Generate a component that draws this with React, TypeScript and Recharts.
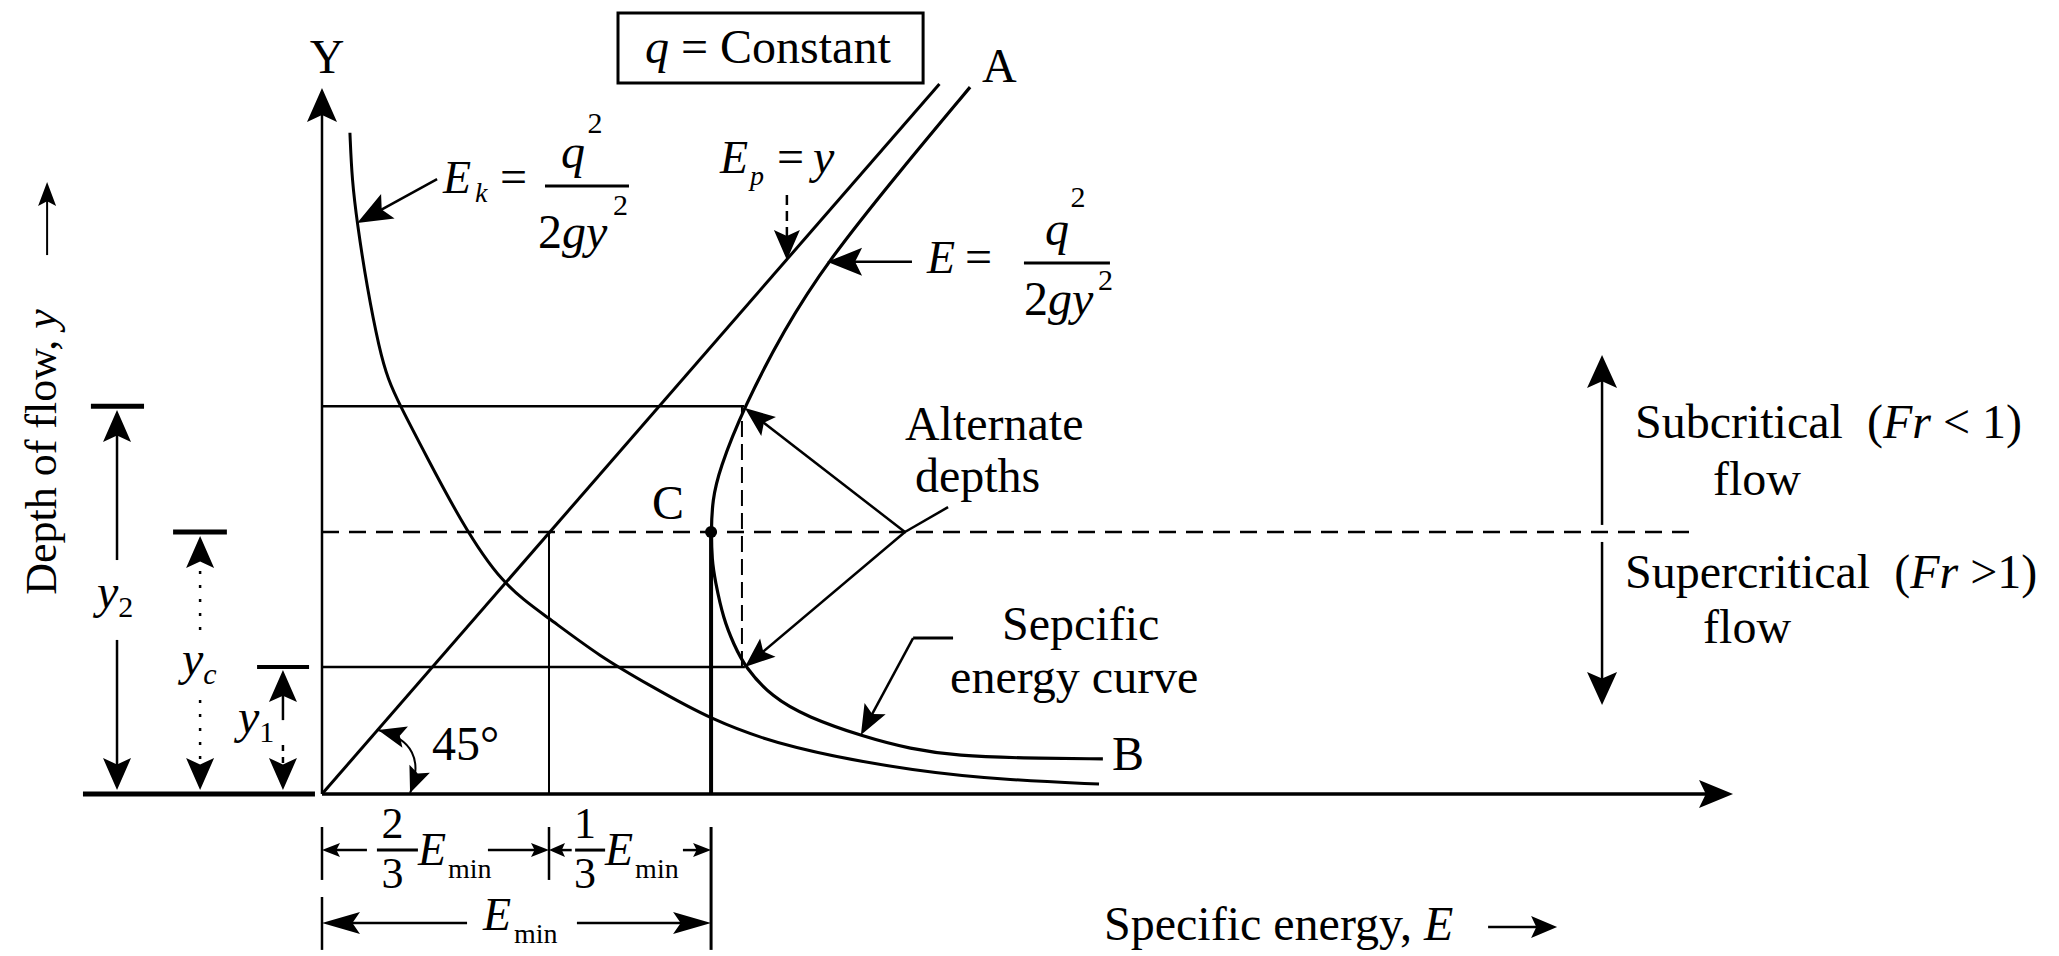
import React from 'react';
import { LineChart, Line, XAxis, YAxis, ReferenceLine, ReferenceDot, ReferenceArea } from 'recharts';

const FONT = '"Liberation Serif", "Times New Roman", Times, serif';
const INK = '#000';

// plot window: specific energy E across, depth y up (critical depth y_c = 1 unit)
const E_RANGE: [number, number] = [-1.4185, 7.652];
const Y_RANGE: [number, number] = [-0.6183, 3.0305];

// specific energy curve E = y + q²/2gy², from A (top) down to B
const specE = [2.855, 2.55, 2.225, 2.035, 1.859, 1.749, 1.72, 1.714, 1.718, 1.731, 1.769, 1.815, 1.863, 1.982, 2.137, 2.388, 2.59, 2.806, 3.075, 3.44];
const specY = [2.698, 2.382, 2.031, 1.772, 1.477, 1.236, 1.121, 1.0, 0.893, 0.817, 0.665, 0.57, 0.485, 0.37, 0.294, 0.218, 0.172, 0.145, 0.137, 0.134];

// kinetic part E_k = q²/2gy²
const kinE = [0.123, 0.132, 0.155, 0.198, 0.253, 0.291, 0.344, 0.462, 0.608, 0.791, 0.994, 1.225, 1.445, 1.711, 2.052, 2.631, 3.035, 3.423];
const kinY = [2.524, 2.344, 2.179, 1.935, 1.695, 1.582, 1.482, 1.286, 1.046, 0.8, 0.675, 0.524, 0.414, 0.284, 0.174, 0.084, 0.053, 0.038];

// potential part E_p = y (the 45° line)
const potE = [0, 2.72];
const potY = [0, 2.71];

// depths / energies marked on the figure
const Y2 = 1.48;
const YC = 1.0;
const Y1 = 0.485;
const E_ALT = 1.86;
const E_MIN = 1.714;
const E_TWO_THIRDS = 1.0;

const pts = (xs: number[], ys: number[]) => xs.map((E, i) => ({ E, y: ys[i] }));

const headPts = (tx: number, ty: number, fx: number, fy: number, len: number, half: number) => {
  const d = Math.hypot(tx - fx, ty - fy) || 1;
  const ux = (tx - fx) / d;
  const uy = (ty - fy) / d;
  const bx = tx - ux * len;
  const by = ty - uy * len;
  const nx = tx - ux * len * 0.8;
  const ny = ty - uy * len * 0.8;
  return [
    [tx, ty],
    [bx - uy * half, by + ux * half],
    [nx, ny],
    [bx + uy * half, by - ux * half],
  ].map((p) => p.join(',')).join(' ');
};

type ArrowOpt = { end?: boolean; start?: boolean; len?: number; half?: number; width?: number; dash?: string };

const arrowShape = ({ end = true, start = false, len = 32, half = 13, width = 2.5, dash }: ArrowOpt = {}) => (p: any) => {
  const { x1, y1, x2, y2 } = p;
  const d = Math.hypot(x2 - x1, y2 - y1) || 1;
  const ux = (x2 - x1) / d;
  const uy = (y2 - y1) / d;
  const lx2 = end ? x2 - ux * len * 0.6 : x2;
  const ly2 = end ? y2 - uy * len * 0.6 : y2;
  const lx1 = start ? x1 + ux * len * 0.6 : x1;
  const ly1 = start ? y1 + uy * len * 0.6 : y1;
  return (
    <g>
      <line x1={lx1} y1={ly1} x2={lx2} y2={ly2} stroke={INK} strokeWidth={width} strokeDasharray={dash} />
      {end && <polygon points={headPts(x2, y2, x1, y1, len, half)} fill={INK} />}
      {start && <polygon points={headPts(x1, y1, x2, y2, len, half)} fill={INK} />}
    </g>
  );
};

// curved double arrow for the 45° mark
const arcShape = (bulge: number) => (p: any) => {
  const { x1, y1, x2, y2 } = p;
  const d = Math.hypot(x2 - x1, y2 - y1) || 1;
  const cx = (x1 + x2) / 2 + ((y2 - y1) / d) * bulge;
  const cy = (y1 + y2) / 2 - ((x2 - x1) / d) * bulge;
  return (
    <g>
      <path d={`M${x1},${y1} Q${cx},${cy} ${x2},${y2}`} fill="none" stroke={INK} strokeWidth={2} />
      <polygon points={headPts(x1, y1, cx, cy, 28, 11)} fill={INK} />
      <polygon points={headPts(x2, y2, cx, cy, 26, 11)} fill={INK} />
    </g>
  );
};

const textShape = (content: React.ReactNode, o: { size?: number; anchor?: 'start' | 'middle' | 'end'; rotate?: number } = {}) => (p: any) => (
  <text
    x={p.cx}
    y={p.cy}
    fill={INK}
    fontFamily={FONT}
    fontSize={o.size ?? 48}
    textAnchor={o.anchor ?? 'start'}
    style={{ whiteSpace: 'pre' }}
    transform={o.rotate ? `rotate(${o.rotate} ${p.cx} ${p.cy})` : undefined}
  >
    {content}
  </text>
);

const it = (s: string) => <tspan fontStyle="italic">{s}</tspan>;

const T = (x: number, y: number, s: React.ReactNode, extra: any = {}) => (
  <text x={x} y={y} fill={INK} fontFamily={FONT} fontSize={48} {...extra}>{s}</text>
);

const groupShape = (body: React.ReactNode) => (p: any) => <g transform={`translate(${p.cx} ${p.cy})`}>{body}</g>;

const bar = (x1: number, x2: number, y: number) => <line x1={x1} x2={x2} y1={y} y2={y} stroke={INK} strokeWidth={3} />;

// E_k = q²/2gy²
const kineticFormula = groupShape(
  <>
    {T(0, 0, 'E', { fontStyle: 'italic', fontSize: 46 })}
    {T(32, 9, 'k', { fontStyle: 'italic', fontSize: 28 })}
    {T(57, 0, '=')}
    {bar(102, 186, -7)}
    {T(130, -25, 'q', { fontStyle: 'italic', textAnchor: 'middle' })}
    {T(152, -60, '2', { fontSize: 30, textAnchor: 'middle' })}
    {T(95, 55, <>2{it('gy')}</>)}
    {T(170, 22, '2', { fontSize: 30 })}
  </>
);

// E = q²/2gy²
const energyFormula = groupShape(
  <>
    {T(0, 0, 'E', { fontStyle: 'italic', fontSize: 46 })}
    {T(38, 0, '=')}
    {bar(97, 183, -10)}
    {T(130, -28, 'q', { fontStyle: 'italic', textAnchor: 'middle' })}
    {T(151, -66, '2', { fontSize: 30, textAnchor: 'middle' })}
    {T(97, 42, <>2{it('gy')}</>)}
    {T(171, 17, '2', { fontSize: 30 })}
  </>
);

// E_p = y
const potentialFormula = groupShape(
  <>
    {T(0, 0, 'E', { fontStyle: 'italic', fontSize: 46 })}
    {T(30, 12, 'p', { fontStyle: 'italic', fontSize: 28 })}
    {T(57, 0, '=')}
    {T(93, 0, 'y', { fontStyle: 'italic' })}
  </>
);

const fractionEmin = (num: string, w: number) => groupShape(
  <>
    {T(w / 2 - 5, -12, num, { fontSize: 44, textAnchor: 'middle' })}
    {bar(0, w, 0)}
    {T(w / 2 - 5, 38, '3', { fontSize: 44, textAnchor: 'middle' })}
    {T(w, 15, 'E', { fontStyle: 'italic', fontSize: 46 })}
    {T(w + 30, 28, 'min', { fontSize: 28 })}
  </>
);

const eminLabel = groupShape(
  <>
    {T(0, 0, 'E', { fontStyle: 'italic', fontSize: 46 })}
    {T(31, 13, 'min', { fontSize: 28 })}
  </>
);

const depthLabel = (sub: string, italicSub: boolean) =>
  textShape(
    <>
      {it('y')}
      <tspan fontSize={30} dy={9} fontStyle={italicSub ? 'italic' : 'normal'}>{sub}</tspan>
    </>
  );

type Pt = [number, number];
type Arrow = { a: Pt; b: Pt; shape: (p: any) => React.ReactElement };

const arrows: Arrow[] = [
  // axes
  { a: [0, 0], b: [0, 2.695], shape: arrowShape({ len: 34, half: 15 }) },
  { a: [0, 0], b: [6.216, 0], shape: arrowShape({ len: 34, half: 14, width: 3.5 }) },
  { a: [-1.053, 0], b: [-0.031, 0], shape: arrowShape({ end: false, width: 5 }) },
  // alternate depth levels and critical depth
  { a: [0, Y2], b: [E_ALT, Y2], shape: arrowShape({ end: false, width: 2.5 }) },
  { a: [0, Y1], b: [1.863, Y1], shape: arrowShape({ end: false, width: 2.5 }) },
  { a: [0, YC], b: [6.03, YC], shape: arrowShape({ end: false, width: 2.5, dash: '17 10' }) },
  { a: [1.85, Y1], b: [1.85, Y2], shape: arrowShape({ end: false, width: 2, dash: '16 7' }) },
  { a: [E_TWO_THIRDS, 0], b: [E_TWO_THIRDS, YC], shape: arrowShape({ end: false, width: 2 }) },
  { a: [E_MIN, 0], b: [E_MIN, YC], shape: arrowShape({ end: false, width: 4 }) },
  // y2, yc, y1 dimensions at left
  { a: [-1.018, Y2], b: [-0.784, Y2], shape: arrowShape({ end: false, width: 5 }) },
  { a: [-0.903, 0.893], b: [-0.903, 1.466], shape: arrowShape({ half: 14 }) },
  { a: [-0.903, 0.588], b: [-0.903, 0.015], shape: arrowShape({ half: 14 }) },
  { a: [-0.656, YC], b: [-0.419, YC], shape: arrowShape({ end: false, width: 5 }) },
  { a: [-0.537, 0.626], b: [-0.537, 0.985], shape: arrowShape({ half: 14, dash: '3 11' }) },
  { a: [-0.537, 0.359], b: [-0.537, 0.015], shape: arrowShape({ half: 14, dash: '3 11' }) },
  { a: [-0.286, Y1], b: [-0.057, Y1], shape: arrowShape({ end: false, width: 4 }) },
  { a: [-0.172, 0.282], b: [-0.172, 0.473], shape: arrowShape({ half: 14 }) },
  { a: [-0.172, 0.187], b: [-0.172, 0.015], shape: arrowShape({ half: 14, dash: '6 6' }) },
  // axis title arrows
  { a: [-1.211, 2.057], b: [-1.211, 2.336], shape: arrowShape({ len: 24, half: 9, width: 2 }) },
  { a: [5.137, -0.508], b: [5.441, -0.508], shape: arrowShape({ len: 26, half: 11, width: 2.5 }) },
  // sub / supercritical arrows
  { a: [5.639, 1.027], b: [5.639, 1.676], shape: arrowShape({ len: 33, half: 15 }) },
  { a: [5.639, 0.962], b: [5.639, 0.34], shape: arrowShape({ len: 33, half: 15 }) },
  // formula pointers
  { a: [0.507, 2.347], b: [0.155, 2.179], shape: arrowShape({ len: 35, half: 14 }) },
  { a: [2.599, 2.031], b: [2.225, 2.031], shape: arrowShape({ len: 35, half: 14 }) },
  { a: [2.048, 2.286], b: [2.048, 2.038], shape: arrowShape({ len: 30, half: 13, dash: '10 6' }) },
  // alternate depths
  { a: [2.568, YC], b: [1.863, 1.473], shape: arrowShape({ len: 30, half: 12 }) },
  { a: [2.568, YC], b: [1.863, Y1], shape: arrowShape({ len: 30, half: 12 }) },
  { a: [2.568, YC], b: [2.758, 1.095], shape: arrowShape({ end: false }) },
  // specific energy curve pointer
  { a: [2.78, 0.595], b: [2.604, 0.595], shape: arrowShape({ end: false, width: 3 }) },
  { a: [2.604, 0.595], b: [2.374, 0.225], shape: arrowShape({ len: 30, half: 12 }) },
  // E_min dimensions below the axis
  { a: [0, -0.126], b: [0, -0.328], shape: arrowShape({ end: false, width: 2.5 }) },
  { a: [0, -0.393], b: [0, -0.595], shape: arrowShape({ end: false, width: 2.5 }) },
  { a: [E_TWO_THIRDS, -0.126], b: [E_TWO_THIRDS, -0.328], shape: arrowShape({ end: false, width: 2.5 }) },
  { a: [E_MIN, -0.126], b: [E_MIN, -0.595], shape: arrowShape({ end: false, width: 3 }) },
  { a: [0.198, -0.214], b: [0, -0.214], shape: arrowShape({ len: 18, half: 7 }) },
  { a: [0.731, -0.214], b: [E_TWO_THIRDS, -0.214], shape: arrowShape({ len: 18, half: 7 }) },
  { a: [1.1, -0.214], b: [E_TWO_THIRDS, -0.214], shape: arrowShape({ len: 16, half: 7 }) },
  { a: [1.59, -0.214], b: [E_MIN, -0.214], shape: arrowShape({ len: 18, half: 7 }) },
  { a: [0.639, -0.492], b: [0, -0.492], shape: arrowShape({ len: 38, half: 11 }) },
  { a: [1.123, -0.492], b: [E_MIN, -0.492], shape: arrowShape({ len: 38, half: 11 }) },
  // 45° mark
  { a: [0.247, 0.244], b: [0.388, 0.004], shape: arcShape(40) },
];

type Label = { at: Pt; shape: (p: any) => React.ReactElement };

const labels: Label[] = [
  { at: [1.423, 2.79], shape: textShape(<>{it('q')} = Constant</>) },
  { at: [0.022, 2.752], shape: textShape('Y', { anchor: 'middle' }) },
  { at: [2.907, 2.718], shape: textShape('A') },
  { at: [3.48, 0.092], shape: textShape('B') },
  { at: [1.454, 1.05], shape: textShape('C') },
  { at: [0.485, 0.13], shape: textShape('45°') },
  { at: [2.568, 1.351], shape: textShape('Alternate') },
  { at: [2.612, 1.153], shape: textShape('depths') },
  { at: [2.996, 0.588], shape: textShape('Sepcific') },
  { at: [2.767, 0.385], shape: textShape('energy curve') },
  { at: [5.784, 1.359], shape: textShape(<>Subcritical  ({it('Fr')} &lt; 1)</>) },
  { at: [6.128, 1.141], shape: textShape('flow') },
  { at: [5.74, 0.786], shape: textShape(<>Supercritical  ({it('Fr')} &gt;1)</>) },
  { at: [6.084, 0.576], shape: textShape('flow') },
  { at: [3.445, -0.557], shape: textShape(<>Specific energy, {it('E')}</>) },
  { at: [-1.172, 1.305], shape: textShape(<>Depth of flow, {it('y')}</>, { size: 44, anchor: 'middle', rotate: -90 }) },
  { at: [-0.991, 0.71], shape: depthLabel('2', false) },
  { at: [-0.617, 0.454], shape: depthLabel('c', true) },
  { at: [-0.37, 0.233], shape: depthLabel('1', false) },
  { at: [0.533, 2.294], shape: kineticFormula },
  { at: [2.665, 1.989], shape: energyFormula },
  { at: [1.753, 2.37], shape: potentialFormula },
  { at: [0.242, -0.214], shape: fractionEmin('2', 41) },
  { at: [1.115, -0.214], shape: fractionEmin('1', 30) },
  { at: [0.709, -0.519], shape: eminLabel },
];

const App: React.FC = () => {
  const specific = pts(specE, specY);
  const kinetic = pts(kinE, kinY);
  const potential = pts(potE, potY);

  return (
    <div style={{ position: 'absolute', left: 0, top: 0, width: 2059, height: 956, background: '#fff' }}>
      <LineChart width={2059} height={956} margin={{ top: 0, right: 0, bottom: 0, left: 0 }}>
        <XAxis type="number" dataKey="E" domain={E_RANGE} allowDataOverflow hide />
        <YAxis type="number" dataKey="y" domain={Y_RANGE} allowDataOverflow hide />

        <ReferenceArea x1={1.304} x2={2.648} y1={2.714} y2={2.981} fill="#fff" fillOpacity={0} stroke={INK} strokeWidth={3} />

        {arrows.map((a, i) => (
          <ReferenceLine
            key={`arrow-${i}`}
            segment={[{ x: a.a[0], y: a.a[1] }, { x: a.b[0], y: a.b[1] }]}
            shape={a.shape}
            ifOverflow="visible"
          />
        ))}

        <Line data={potential} dataKey="y" type="linear" stroke={INK} strokeWidth={3} dot={false} activeDot={false} isAnimationActive={false} />
        <Line data={kinetic} dataKey="y" type="basis" stroke={INK} strokeWidth={3} dot={false} activeDot={false} isAnimationActive={false} />
        <Line data={specific} dataKey="y" type="basis" stroke={INK} strokeWidth={3.2} dot={false} activeDot={false} isAnimationActive={false} />

        <ReferenceDot x={E_MIN} y={YC} r={6} fill={INK} stroke="none" />

        {labels.map((l, i) => (
          <ReferenceDot key={`label-${i}`} x={l.at[0]} y={l.at[1]} shape={l.shape} ifOverflow="visible" />
        ))}
      </LineChart>
    </div>
  );
};

export default App;
